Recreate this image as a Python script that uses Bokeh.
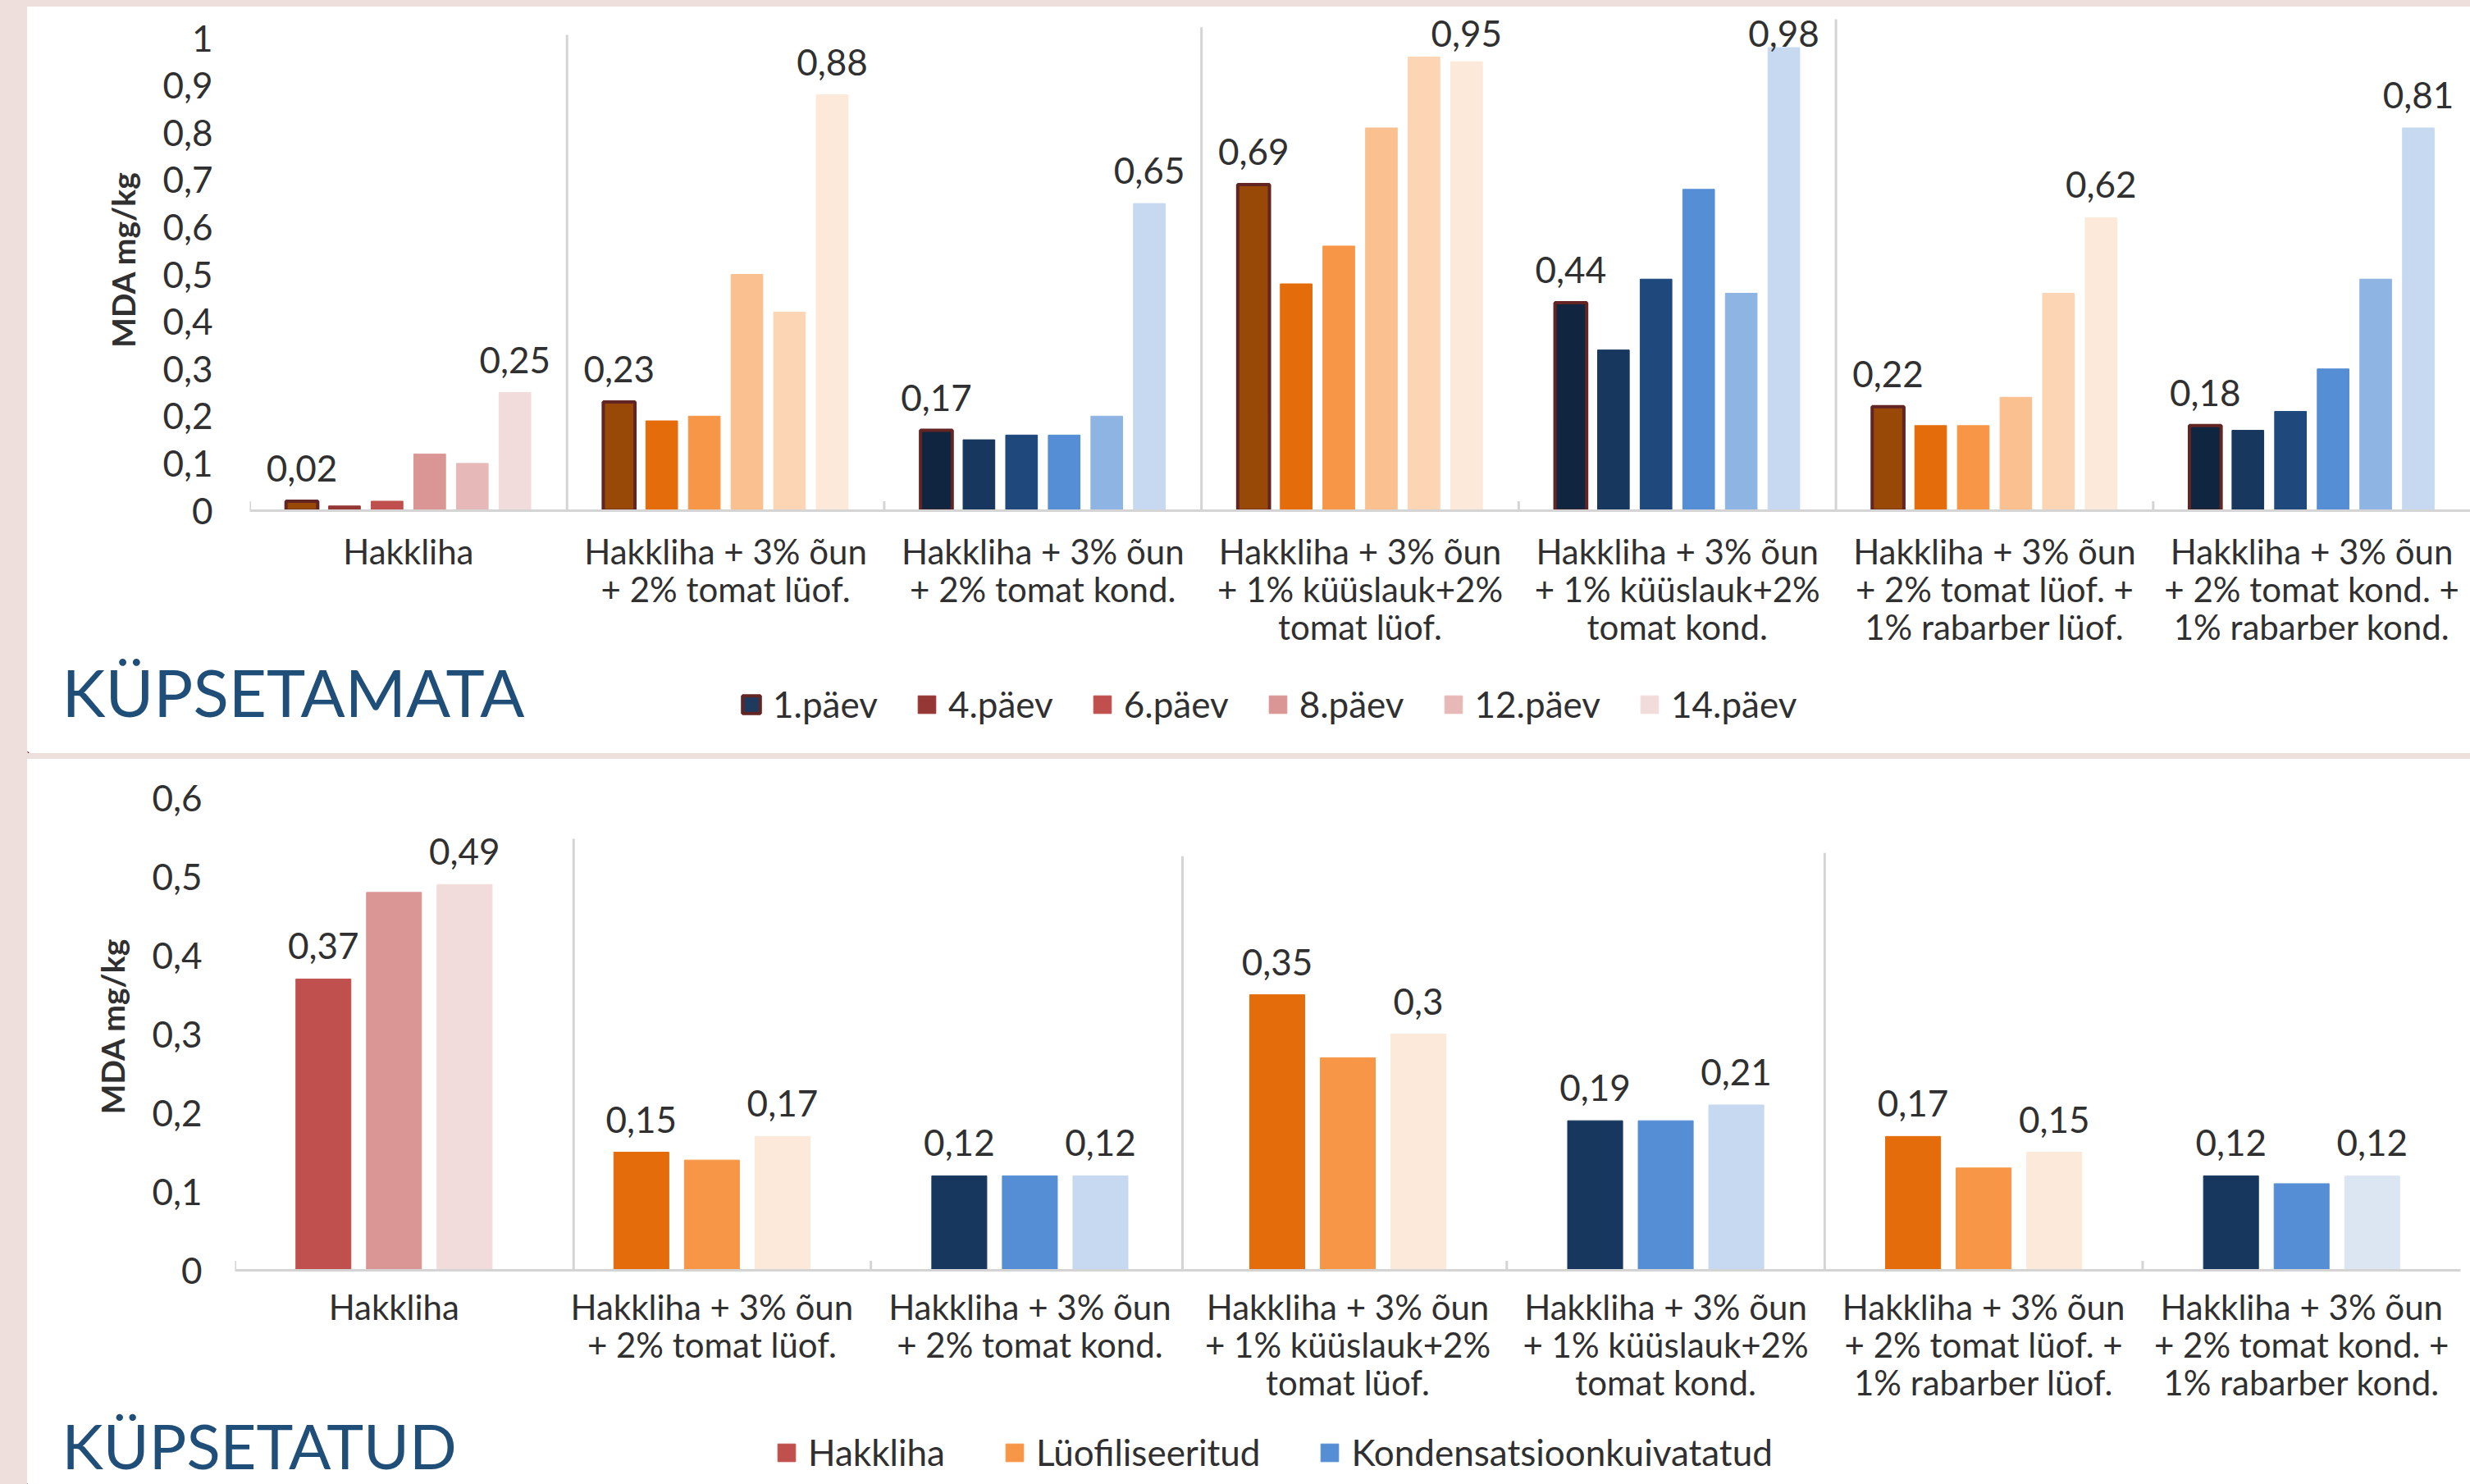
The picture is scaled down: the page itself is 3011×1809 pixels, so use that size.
from bokeh.plotting import figure
from bokeh.models import (ColumnDataSource, FactorRange, Range1d, FixedTicker,
                          CustomJSTickFormatter, Legend, LegendItem, Label, Spacer)
from bokeh.layouts import row, column
from bokeh.transform import dodge
from bokeh.core.properties import value
from bokeh.embed import file_html
from bokeh.resources import INLINE

# ---------------- data ----------------
categories = [
    "Hakkliha",
    "Hakkliha + 3% õun\n+ 2% tomat lüof.",
    "Hakkliha + 3% õun\n+ 2% tomat kond.",
    "Hakkliha + 3% õun\n+ 1% küüslauk+2%\ntomat lüof.",
    "Hakkliha + 3% õun\n+ 1% küüslauk+2%\ntomat kond.",
    "Hakkliha + 3% õun\n+ 2% tomat lüof. +\n1% rabarber lüof.",
    "Hakkliha + 3% õun\n+ 2% tomat kond. +\n1% rabarber kond.",
]

# KÜPSETAMATA (raw) – one list per storage day
days = ["1.päev", "4.päev", "6.päev", "8.päev", "12.päev", "14.päev"]
raw_day1 = [0.02, 0.23, 0.17, 0.69, 0.44, 0.22, 0.18]
raw_day4 = [0.01, 0.19, 0.15, 0.48, 0.34, 0.18, 0.17]
raw_day6 = [0.02, 0.20, 0.16, 0.56, 0.49, 0.18, 0.21]
raw_day8 = [0.12, 0.50, 0.16, 0.81, 0.68, 0.24, 0.30]
raw_day12 = [0.10, 0.42, 0.20, 0.96, 0.46, 0.46, 0.49]
raw_day14 = [0.25, 0.88, 0.65, 0.95, 0.98, 0.62, 0.81]

# KÜPSETATUD (cooked) – three bars per group
cooked_names = ["Hakkliha", "Lüofiliseeritud", "Kondensatsioonkuivatatud"]
cooked_1 = [0.37, 0.15, 0.12, 0.35, 0.19, 0.17, 0.12]
cooked_2 = [0.48, 0.14, 0.12, 0.27, 0.19, 0.13, 0.11]
cooked_3 = [0.49, 0.17, 0.12, 0.30, 0.21, 0.15, 0.12]

top_ticks = [0, 0.1, 0.2, 0.3, 0.4, 0.5, 0.6, 0.7, 0.8, 0.9, 1.0]
bottom_ticks = [0, 0.1, 0.2, 0.3, 0.4, 0.5, 0.6]

# ---------------- styles ----------------
group_kind_top = ["hakk", "luof", "kond", "luof", "kond", "luof", "kond"]
group_kind_bot = ["hakk", "luof", "kond", "luof", "kond", "luof", "kond2"]
TOP_PAL = {
    "hakk": ["#984807", "#953735", "#C0504D", "#D99694", "#E6B9B8", "#F2DCDB"],
    "luof": ["#984807", "#E46C0A", "#F79646", "#FAC090", "#FCD5B5", "#FDE9D9"],
    "kond": ["#10253F", "#17375E", "#1F497D", "#558ED5", "#8EB4E3", "#C6D9F1"],
}
BOT_PAL = {
    "hakk": ["#C0504D", "#D99694", "#F2DCDB"],
    "luof": ["#E46C0A", "#F79646", "#FDE9D9"],
    "kond": ["#17375E", "#558ED5", "#C6D9F1"],
    "kond2": ["#17375E", "#558ED5", "#DCE6F2"],
}
TOP_LEGEND_COLORS = ["#1F3A5F", "#953735", "#C0504D", "#D99694", "#E6B9B8", "#F2DCDB"]
BOT_LEGEND_COLORS = ["#C0504D", "#F79646", "#558ED5"]
OUTLINE = "#632523"
FONT = "Lato"
TXT = "#303030"
TITLE_COL = "#1F4E79"
AXIS_COL = "#D4D4D4"
PAGE_BG = "#EEDFDC"

FIG_W = 2978


def fmt(v):
    s = ("%.2f" % v).rstrip("0").rstrip(".")
    return s.replace(".", ",")


tick_fmt = CustomJSTickFormatter(code="""
if (Math.abs(tick) < 1e-9) return "0";
if (Math.abs(tick - 1) < 1e-9) return "1";
return tick.toFixed(1).replace(".", ",");
""")


def no_align(p):
    try:
        p.frame_align = False
    except Exception:
        pass


def base_fig(height, y_end, left, right, top, bottom, ticks, ylab_standoff, title_standoff,
             xlab_standoff):
    p = figure(width=FIG_W, height=height, x_range=FactorRange(*categories),
               y_range=Range1d(0, y_end), output_backend="svg", toolbar_location=None,
               min_border_left=left, min_border_right=right,
               min_border_top=top, min_border_bottom=bottom)
    no_align(p)
    p.background_fill_color = "white"
    p.border_fill_color = "white"
    p.outline_line_color = None
    p.xgrid.grid_line_color = None
    p.ygrid.grid_line_color = None
    p.x_range.range_padding = 0
    p.x_range.factor_padding = 0

    ya = p.yaxis[0]
    ya.ticker = FixedTicker(ticks=ticks)
    ya.formatter = tick_fmt
    ya.axis_line_color = None
    ya.major_tick_line_color = None
    ya.minor_tick_line_color = None
    ya.major_tick_in = 0
    ya.major_tick_out = 0
    ya.major_label_standoff = ylab_standoff
    ya.major_label_text_font = FONT
    ya.major_label_text_font_size = "44px"
    ya.major_label_text_color = TXT
    ya.axis_label = "MDA mg/kg"
    ya.axis_label_text_font = FONT
    ya.axis_label_text_font_style = "bold"
    ya.axis_label_text_font_size = "39px"
    ya.axis_label_text_color = TXT
    ya.axis_label_standoff = title_standoff

    xa = p.xaxis[0]
    xa.axis_line_color = AXIS_COL
    xa.axis_line_width = 3
    xa.major_tick_line_color = None
    xa.minor_tick_line_color = None
    xa.major_tick_in = 0
    xa.major_tick_out = 0
    xa.major_label_standoff = xlab_standoff
    xa.major_label_text_font = FONT
    xa.major_label_text_font_size = "42px"
    xa.major_label_text_color = TXT
    xa.major_label_text_line_height = 0.92
    xa.major_label_orientation = "horizontal"
    return p


def decorate(p, sep_x, sep_top, tick_x, tick_h):
    p.segment(x0=sep_x, y0=[0] * len(sep_x), x1=sep_x, y1=sep_top,
              line_color=AXIS_COL, line_width=3)
    p.segment(x0=tick_x, y0=[0] * len(tick_x), x1=tick_x, y1=[tick_h] * len(tick_x),
              line_color=AXIS_COL, line_width=3)


def strip_fig(height, title, names, colors, first_outline, leg_x, leg_y, spacing, title_y,
              title_size):
    s = figure(width=FIG_W, height=height, x_range=Range1d(0, FIG_W), y_range=Range1d(0, height),
               output_backend="svg", toolbar_location=None,
               min_border_left=0, min_border_right=0, min_border_top=0, min_border_bottom=0)
    no_align(s)
    s.axis.visible = False
    s.xgrid.grid_line_color = None
    s.ygrid.grid_line_color = None
    s.outline_line_color = None
    s.background_fill_color = "white"
    s.border_fill_color = "white"
    items = []
    for i, name in enumerate(names):
        outlined = first_outline and i == 0
        # proxy renderer (placed off-canvas) that only supplies the legend swatch
        r = s.vbar(x=[-1000], top=[1], width=1, fill_color=colors[i],
                   line_color=OUTLINE if outlined else colors[i],
                   line_width=4 if outlined else 1)
        items.append(LegendItem(label=name, renderers=[r]))
    leg = Legend(items=items, orientation="horizontal", location=(leg_x, leg_y),
                 glyph_width=27, glyph_height=27, label_standoff=13, spacing=spacing,
                 padding=0, margin=0, border_line_color=None, background_fill_alpha=0,
                 label_text_font=FONT, label_text_font_size="44px", label_text_color=TXT)
    s.add_layout(leg)
    s.add_layout(Label(x=42, y=title_y, text=title, text_font=FONT, text_font_size=title_size,
                       text_color=TITLE_COL, text_baseline="middle", text_align="left"))
    return s


# ================= TOP: KÜPSETAMATA =================
TOP_H, TOP_LEFT, TOP_FRAME_BOTTOM = 784, 271, 614
top = base_fig(TOP_H, 1.0625, TOP_LEFT, 0, 2, TOP_H - TOP_FRAME_BOTTOM, top_ticks, 45, 22, 24)
decorate(top, [1, 3, 5], [1.007, 1.023, 1.04], [0, 2, 4, 6], 0.02)

raw_series = [raw_day1, raw_day4, raw_day6, raw_day8, raw_day12, raw_day14]
n_top = len(raw_series)
step_top, width_top = 0.1343, 0.10
for i, vals in enumerate(raw_series):
    off = (i - (n_top - 1) / 2) * step_top
    cols = [TOP_PAL[k][i] for k in group_kind_top]
    src = ColumnDataSource(dict(cat=categories, val=vals, color=cols,
                                label=[fmt(v) for v in vals],
                                ly=[min(v, 0.94) for v in vals]))
    x = dodge("cat", off, range=top.x_range)
    if i == 0:
        top.vbar(x=x, top="val", width=width_top, source=src, fill_color="color",
                 line_color=OUTLINE, line_width=4)
    else:
        top.vbar(x=x, top="val", width=width_top, source=src, fill_color="color",
                 line_color="color", line_width=1)
    if i in (0, n_top - 1):
        top.text(x=x, y="ly", text="label", source=src, text_align="center",
                 text_baseline="middle", y_offset=-40, text_font=value(FONT),
                 text_font_size="44px", text_color=TXT)

TOP_STRIP_H = 910 - TOP_H
top_strip = strip_fig(TOP_STRIP_H, "KÜPSETAMATA", days, TOP_LEGEND_COLORS, True,
                      869, 34, 46, 76, "80px")

# ================= BOTTOM: KÜPSETATUD =================
BOT_H, BOT_LEFT, BOT_RIGHT, BOT_TOP, BOT_FRAME_BOTTOM = 788, 253, 12, 28, 623
bottom = base_fig(BOT_H, 0.62, BOT_LEFT, BOT_RIGHT, BOT_TOP, BOT_H - BOT_FRAME_BOTTOM,
                  bottom_ticks, 40, 22, 19)
decorate(bottom, [1.065, 2.98, 5.0], [0.548, 0.526, 0.53], [0, 2, 4, 6], 0.012)

cooked_series = [cooked_1, cooked_2, cooked_3]
n_bot = len(cooked_series)
step_bot, width_bot = 0.222, 0.173
for i, vals in enumerate(cooked_series):
    off = (i - (n_bot - 1) / 2) * step_bot
    cols = [BOT_PAL[k][i] for k in group_kind_bot]
    src = ColumnDataSource(dict(cat=categories, val=vals, color=cols,
                                label=[fmt(v) for v in vals]))
    x = dodge("cat", off, range=bottom.x_range)
    bottom.vbar(x=x, top="val", width=width_bot, source=src, fill_color="color",
                line_color="color", line_width=1)
    if i in (0, n_bot - 1):
        bottom.text(x=x, y="val", text="label", source=src, text_align="center",
                    text_baseline="middle", y_offset=-40, text_font=value(FONT),
                    text_font_size="44px", text_color=TXT)

BOT_STRIP_H = 884 - BOT_H
bot_strip = strip_fig(BOT_STRIP_H, "KÜPSETATUD", cooked_names, BOT_LEGEND_COLORS, False,
                      912, 13, 71, 48, "76px")

pink = {"background-color": PAGE_BG}
layout = row(
    Spacer(width=33, height=1809, styles=pink),
    column(Spacer(width=FIG_W, height=8, styles=pink), top, top_strip,
           Spacer(width=FIG_W, height=7, styles=pink), bottom, bot_strip,
           styles={"background-color": "white"}),
    styles={"background-color": "white"},
)

open("out.html", "w").write(file_html(layout, INLINE))
